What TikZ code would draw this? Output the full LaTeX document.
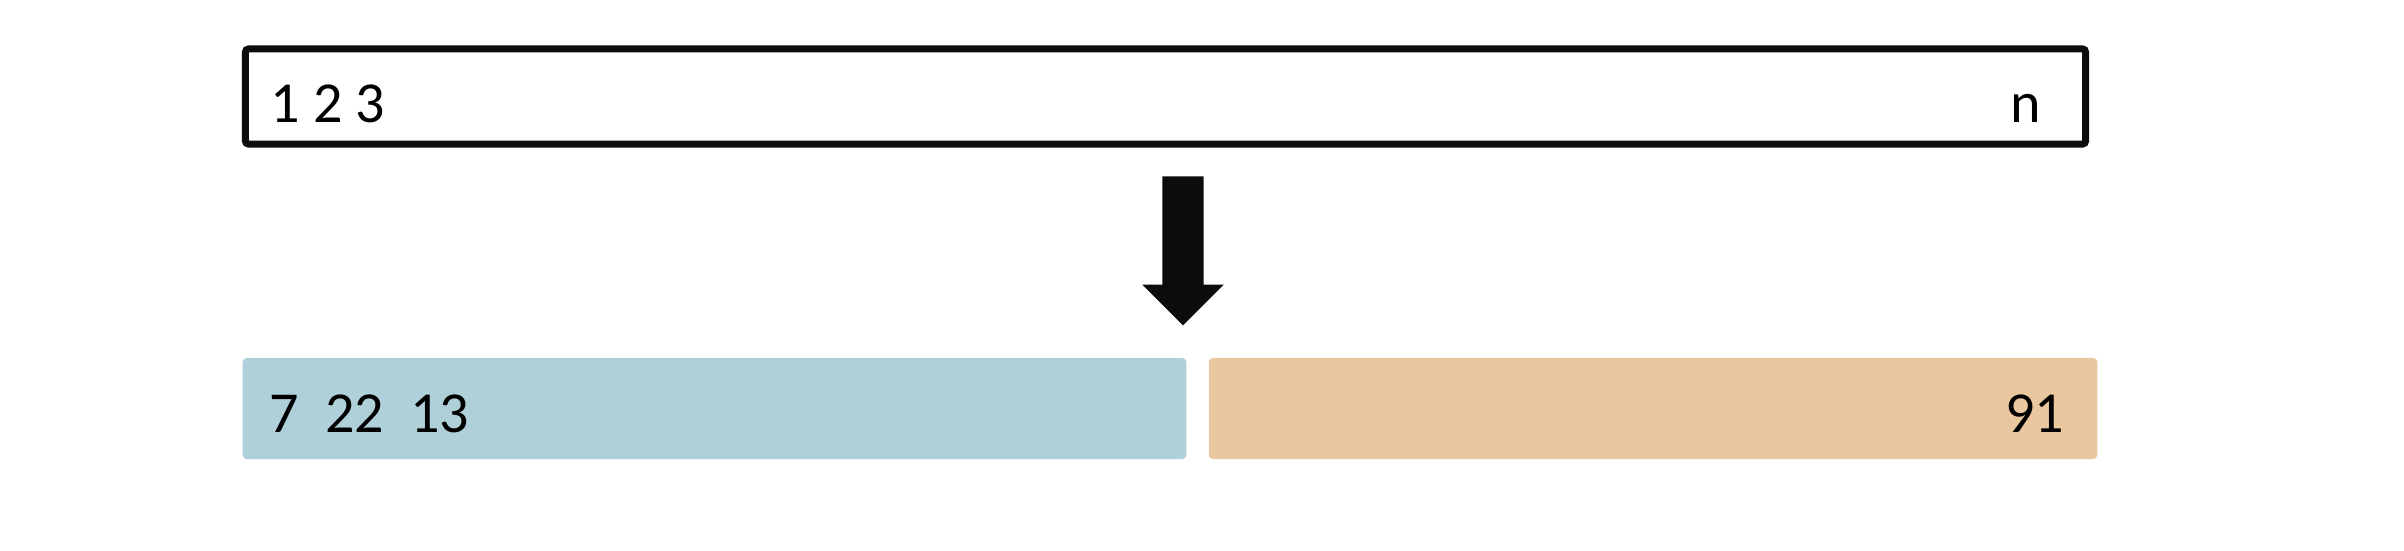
\documentclass[tikz,border=0pt]{standalone}
\usepackage{fontspec}
\setmainfont{Carlito}
\usetikzlibrary{shapes.arrows}
\definecolor{leftrun}{HTML}{AFD0D8}
\definecolor{rightrun}{HTML}{EAC79E}
\definecolor{ink}{HTML}{0C0C0A}

\begin{document}
\begin{tikzpicture}[x=0.01cm,y=-0.01cm,
    every node/.style={inner sep=0pt,font=\fontsize{16.5}{20}\selectfont},
    part/.style={rounded corners=0.04cm,minimum height=1.01cm}]
				\useasboundingbox (0,0) rectangle (2404,550);
				\node[draw=ink,line width=0.07cm,rounded corners=0.03cm,minimum width=18.39cm,minimum height=0.95cm] (input) at (1165.5,96.5) {};
				\node[anchor=base west] (first) at (270,122) {1 2 3};
				\node[anchor=base east] (last) at (2042,122) {n};
				\node[single arrow,fill=ink,rotate=-90,inner sep=0.2cm,minimum height=1.49cm,minimum width=0.8cm,single arrow head extend=0.2cm,single arrow tip angle=90] (split) at (1183,240.5) {};
				\node[part,fill=leftrun,minimum width=9.43cm] (low) at (714.5,408.5) {};
				\node[part,fill=rightrun,minimum width=8.88cm] (high) at (1653,408.5) {};
				\node[anchor=base west] (lowvals) at (269,432) {7\ \ 22\ \ 13};
				\node[anchor=base east] (highvals) at (2065,432) {91};
			\end{tikzpicture}
\end{document}
